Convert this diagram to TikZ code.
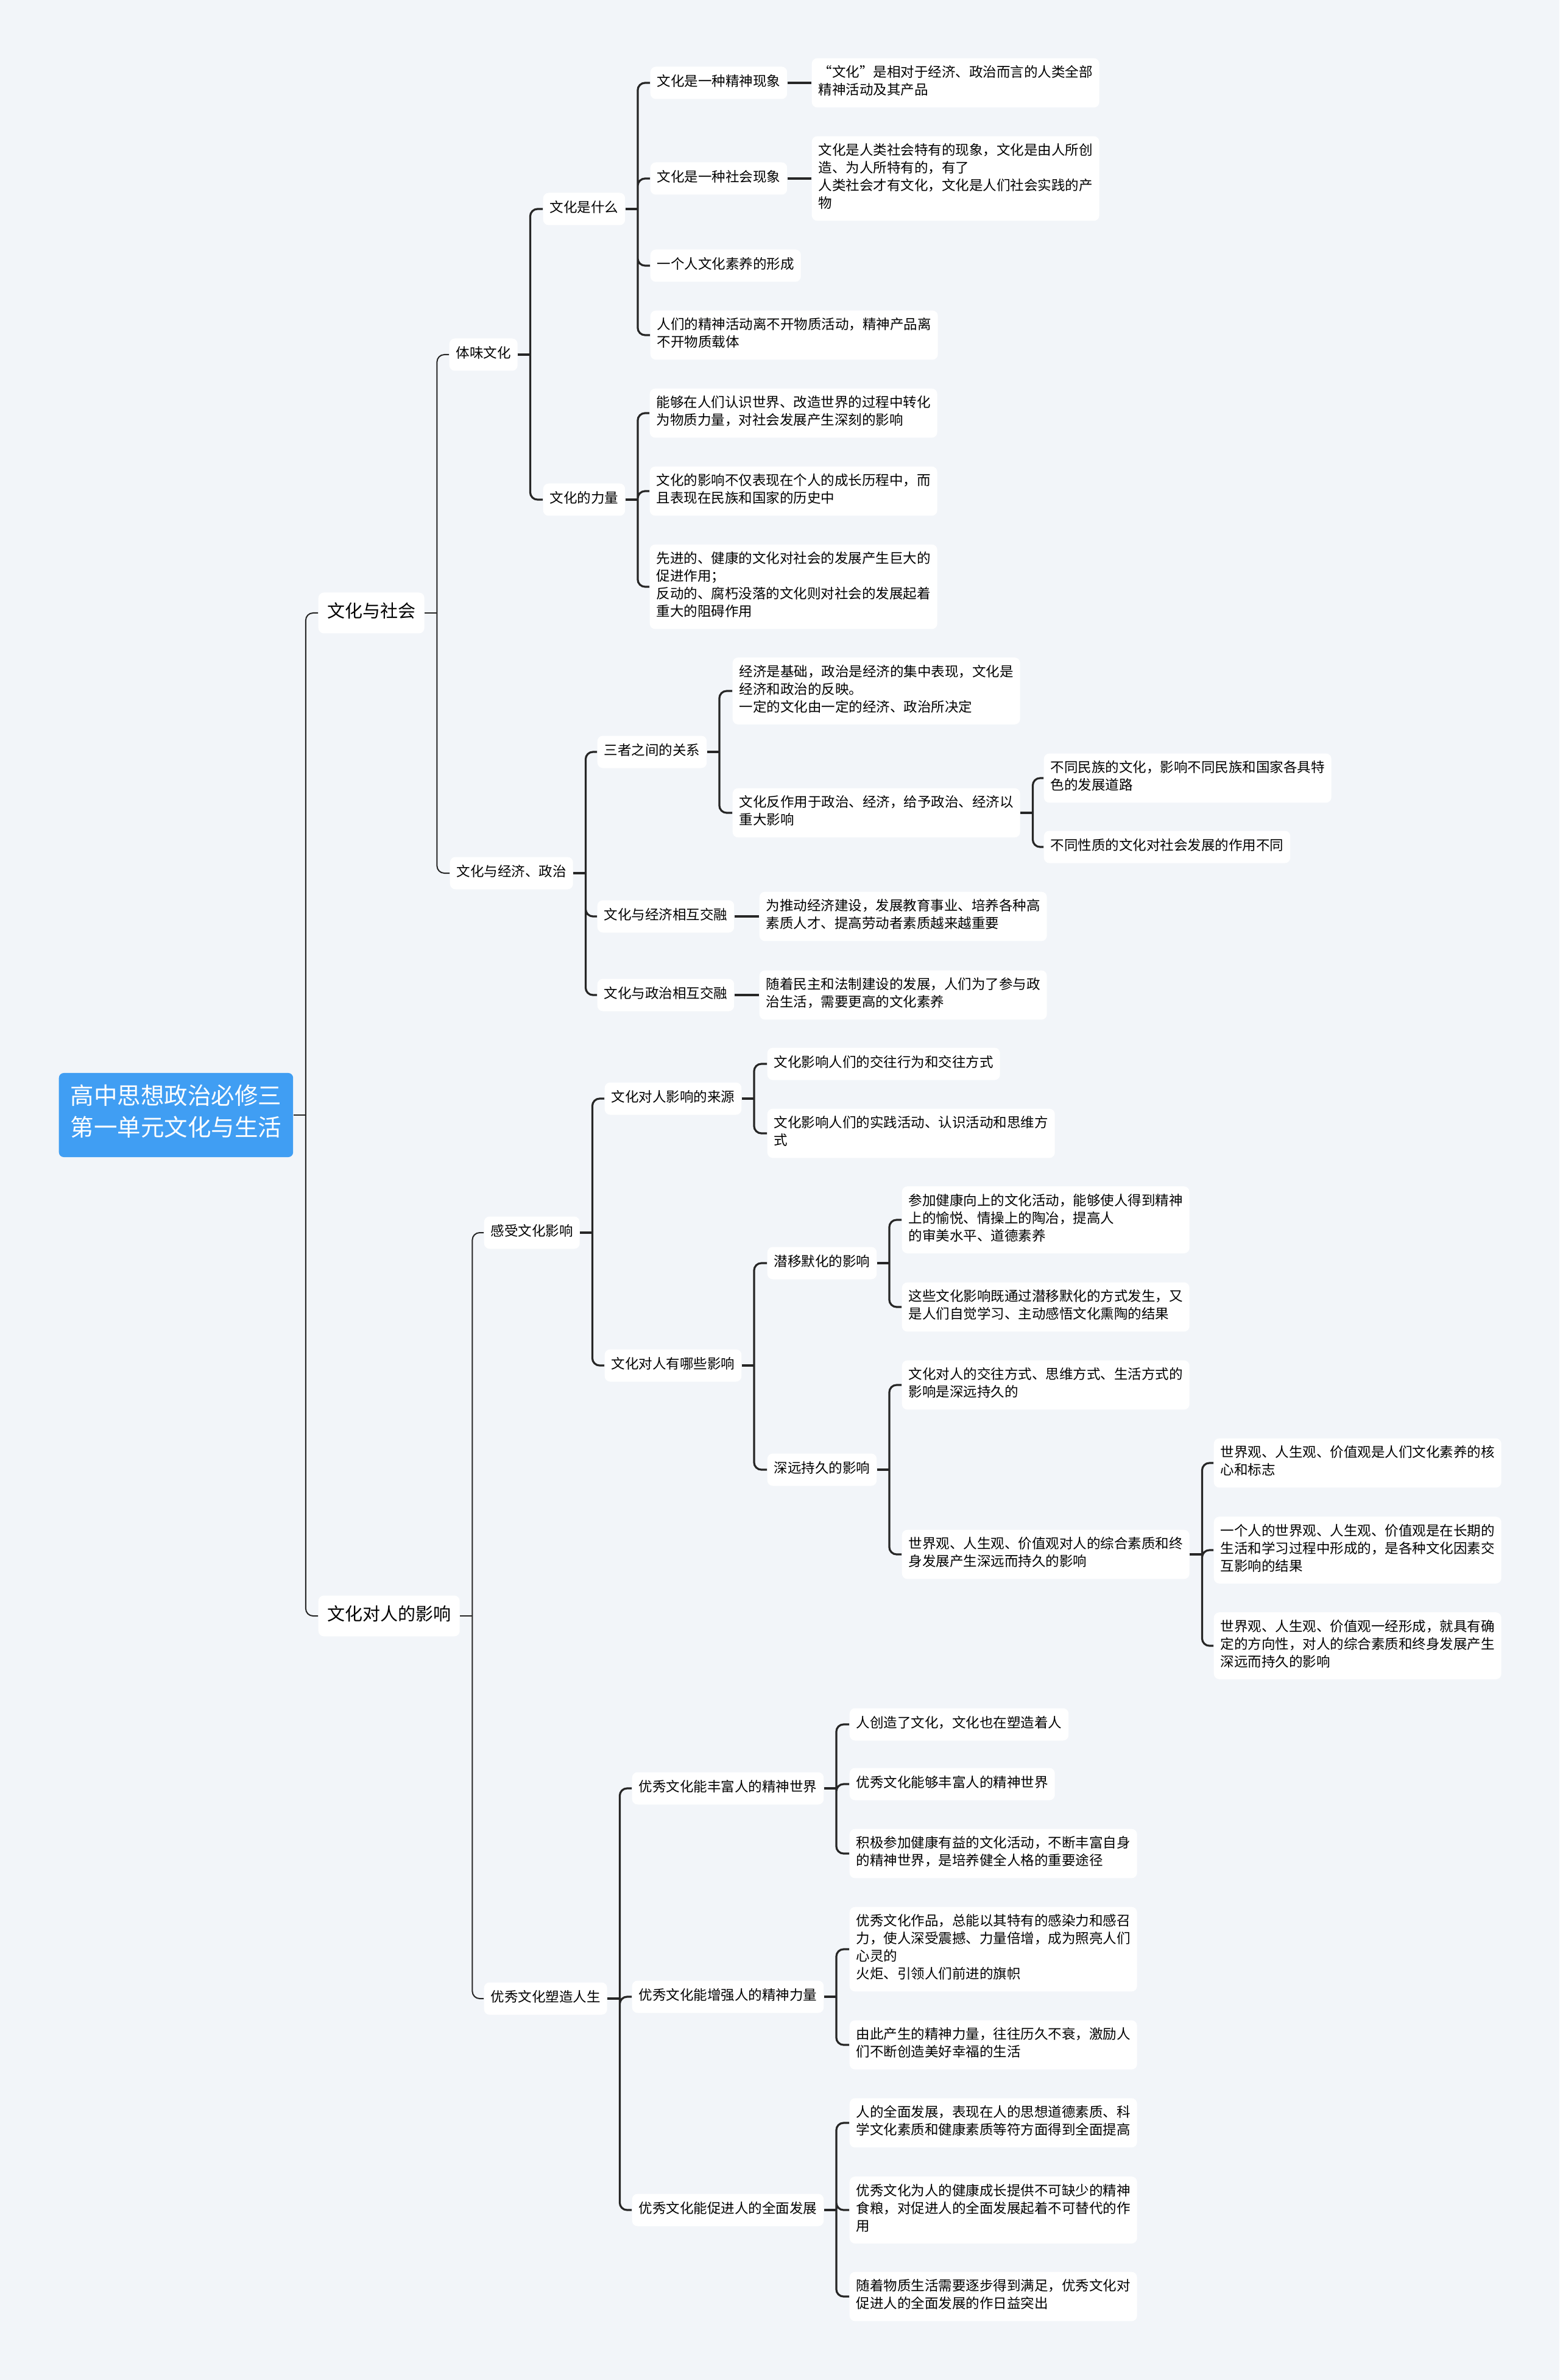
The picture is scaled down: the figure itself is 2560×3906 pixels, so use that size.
\documentclass[tikz,border=0pt]{standalone}
\usepackage{fontspec}
\setmainfont{Noto Sans CJK SC}
\newcommand\fwq[1]{{\addfontfeatures{CharacterWidth=Full}#1}}
\newcommand\lstrut{\rule[-0.3\baselineskip]{0pt}{\baselineskip}}
\definecolor{bgcol}{HTML}{F2F5F9}
\definecolor{rootcol}{HTML}{409EF3}
\definecolor{linecol}{HTML}{262626}

\begin{document}
\begin{tikzpicture}[x=0.1mm, y=-0.1mm,
  topic/.style={fill=white, rounded corners=0.9mm, anchor=west, align=left,
    inner xsep=1.1mm, inner ysep=1.2mm, font=\fontsize{2.25mm}{2.9mm}\selectfont,
    execute at begin node=\lstrut, execute at end node=\lstrut},
  branch/.style={topic, inner xsep=1.45mm, inner ysep=1.45mm,
    font=\fontsize{2.9mm}{3.8mm}\selectfont},
  rootbox/.style={topic, fill=rootcol, text=white, align=center, rounded corners=0.8mm,
    inner xsep=1.9mm, inner ysep=1.9mm, font=\fontsize{3.85mm}{5.2mm}\selectfont},
  link/.style={draw=linecol, line width=0.32mm},
  elbow/.style={link, rounded corners=1.2mm},
  thin/.style={line width=0.2mm}]

% background
\fill[bgcol] (0,0) rectangle (2560,3906);
\useasboundingbox (0,0) rectangle (2560,3906);

% root
\node[rootbox] (root) at (96,1830) {高中思想政治必修三\\第一单元文化与生活};

% first level
\node[branch] (soc) at (522,1006) {文化与社会};
\node[branch] (man) at (522,2652) {文化对人的影响};

% culture and society
\node[topic] (taste) at (737,582) {体味文化};
\node[topic] (eco) at (738,1433) {文化与经济、政治};

\node[topic] (what) at (891,343) {文化是什么};
\node[topic] (power) at (891,820) {文化的力量};

\node[topic] (what1) at (1067,136) {文化是一种精神现象};
\node[topic] (what1t) at (1332,136) {\fwq{“}文化\fwq{”}是相对于经济、政治而言的人类全部\\精神活动及其产品};
\node[topic] (what2) at (1067,293) {文化是一种社会现象};
\node[topic] (what2t) at (1332,293) {文化是人类社会特有的现象，文化是由人所创\\造、为人所特有的，有了\\人类社会才有文化，文化是人们社会实践的产\\物};
\node[topic] (what3) at (1067,436) {一个人文化素养的形成};
\node[topic] (what4) at (1067,550) {人们的精神活动离不开物质活动，精神产品离\\不开物质载体};

\node[topic] (power1) at (1066,678) {能够在人们认识世界、改造世界的过程中转化\\为物质力量，对社会发展产生深刻的影响};
\node[topic] (power2) at (1066,806) {文化的影响不仅表现在个人的成长历程中，而\\且表现在民族和国家的历史中};
\node[topic] (power3) at (1066,963) {先进的、健康的文化对社会的发展产生巨大的\\促进作用；\\反动的、腐朽没落的文化则对社会的发展起着\\重大的阻碍作用};

\node[topic] (three) at (980,1234) {三者之间的关系};
\node[topic] (three1) at (1202,1134) {经济是基础，政治是经济的集中表现，文化是\\经济和政治的反映。\\一定的文化由一定的经济、政治所决定};
\node[topic] (three2) at (1202,1334) {文化反作用于政治、经济，给予政治、经济以\\重大影响};
\node[topic] (three2a) at (1713,1277) {不同民族的文化，影响不同民族和国家各具特\\色的发展道路};
\node[topic] (three2b) at (1713,1390) {不同性质的文化对社会发展的作用不同};

\node[topic] (ecomix) at (980,1504) {文化与经济相互交融};
\node[topic] (ecomixt) at (1246,1504) {为推动经济建设，发展教育事业、培养各种高\\素质人才、提高劳动者素质越来越重要};
\node[topic] (polmix) at (980,1633) {文化与政治相互交融};
\node[topic] (polmixt) at (1246,1633) {随着民主和法制建设的发展，人们为了参与政\\治生活，需要更高的文化素养};

% culture and man
\node[topic] (feel) at (794,2023) {感受文化影响};
\node[topic] (shape) at (794,3280) {优秀文化塑造人生};

\node[topic] (source) at (992,1803) {文化对人影响的来源};
\node[topic] (source1) at (1259,1746) {文化影响人们的交往行为和交往方式};
\node[topic] (source2) at (1259,1860) {文化影响人们的实践活动、认识活动和思维方\\式};

\node[topic] (effect) at (992,2241) {文化对人有哪些影响};
\node[topic] (subtle) at (1259,2073) {潜移默化的影响};
\node[topic] (subtle1) at (1480,2002) {参加健康向上的文化活动，能够使人得到精神\\上的愉悦、情操上的陶冶，提高人\\的审美水平、道德素养};
\node[topic] (subtle2) at (1480,2145) {这些文化影响既通过潜移默化的方式发生，又\\是人们自觉学习、主动感悟文化熏陶的结果};
\node[topic] (lasting) at (1259,2412) {深远持久的影响};
\node[topic] (lasting1) at (1480,2273) {文化对人的交往方式、思维方式、生活方式的\\影响是深远持久的};
\node[topic] (lasting2) at (1480,2551) {世界观、人生观、价值观对人的综合素质和终\\身发展产生深远而持久的影响};
\node[topic] (view1) at (1992,2401) {世界观、人生观、价值观是人们文化素养的核\\心和标志};
\node[topic] (view2) at (1992,2544) {一个人的世界观、人生观、价值观是在长期的\\生活和学习过程中形成的，是各种文化因素交\\互影响的结果};
\node[topic] (view3) at (1992,2701) {世界观、人生观、价值观一经形成，就具有确\\定的方向性，对人的综合素质和终身发展产生\\深远而持久的影响};

\node[topic] (rich) at (1037,2935) {优秀文化能丰富人的精神世界};
\node[topic] (rich1) at (1394,2830) {人创造了文化，文化也在塑造着人};
\node[topic] (rich2) at (1394,2928) {优秀文化能够丰富人的精神世界};
\node[topic] (rich3) at (1394,3042) {积极参加健康有益的文化活动，不断丰富自身\\的精神世界，是培养健全人格的重要途径};

\node[topic] (force) at (1037,3277) {优秀文化能增强人的精神力量};
\node[topic] (force1) at (1394,3199) {优秀文化作品，总能以其特有的感染力和感召\\力，使人深受震撼、力量倍增，成为照亮人们\\心灵的\\火炬、引领人们前进的旗帜};
\node[topic] (force2) at (1394,3356) {由此产生的精神力量，往往历久不衰，激励人\\们不断创造美好幸福的生活};

\node[topic] (whole) at (1037,3627) {优秀文化能促进人的全面发展};
\node[topic] (whole1) at (1394,3484) {人的全面发展，表现在人的思想道德素质、科\\学文化素质和健康素质等符方面得到全面提高};
\node[topic] (whole2) at (1394,3627) {优秀文化为人的健康成长提供不可缺少的精神\\食粮，对促进人的全面发展起着不可替代的作\\用};
\node[topic] (whole3) at (1394,3769) {随着物质生活需要逐步得到满足，优秀文化对\\促进人的全面发展的作日益突出};

% connections
\draw[link, thin] (root.east) -- ++(2mm,0) coordinate (root-j);
\draw[elbow, thin] (root-j) |- (soc.west) (root-j) |- (man.west);

\draw[link, thin] (soc.east) -- ++(2mm,0) coordinate (soc-j);
\draw[elbow, thin] (soc-j) |- (taste.west) (soc-j) |- (eco.west);
\draw[link] (taste.east) -- ++(2mm,0) coordinate (taste-j);
\draw[elbow] (taste-j) |- (what.west) (taste-j) |- (power.west);
\draw[link] (what.east) -- ++(2mm,0) coordinate (what-j);
\draw[elbow] (what-j) |- (what1.west) (what-j) |- (what2.west) (what-j) |- (what3.west) (what-j) |- (what4.west);
\draw[link] (what1.east) -- (what1t.west);
\draw[link] (what2.east) -- (what2t.west);
\draw[link] (power.east) -- ++(2mm,0) coordinate (power-j);
\draw[elbow] (power-j) |- (power1.west) (power-j) |- (power2.west) (power-j) |- (power3.west);

\draw[link] (eco.east) -- ++(2mm,0) coordinate (eco-j);
\draw[elbow] (eco-j) |- (three.west) (eco-j) |- (ecomix.west) (eco-j) |- (polmix.west);
\draw[link] (three.east) -- ++(2mm,0) coordinate (three-j);
\draw[elbow] (three-j) |- (three1.west) (three-j) |- (three2.west);
\draw[link] (three2.east) -- ++(2mm,0) coordinate (three2-j);
\draw[elbow] (three2-j) |- (three2a.west) (three2-j) |- (three2b.west);
\draw[link] (ecomix.east) -- (ecomixt.west);
\draw[link] (polmix.east) -- (polmixt.west);

\draw[link, thin] (man.east) -- ++(2mm,0) coordinate (man-j);
\draw[elbow, thin] (man-j) |- (feel.west) (man-j) |- (shape.west);
\draw[link] (feel.east) -- ++(2mm,0) coordinate (feel-j);
\draw[elbow] (feel-j) |- (source.west) (feel-j) |- (effect.west);
\draw[link] (source.east) -- ++(2mm,0) coordinate (source-j);
\draw[elbow] (source-j) |- (source1.west) (source-j) |- (source2.west);
\draw[link] (effect.east) -- ++(2mm,0) coordinate (effect-j);
\draw[elbow] (effect-j) |- (subtle.west) (effect-j) |- (lasting.west);
\draw[link] (subtle.east) -- ++(2mm,0) coordinate (subtle-j);
\draw[elbow] (subtle-j) |- (subtle1.west) (subtle-j) |- (subtle2.west);
\draw[link] (lasting.east) -- ++(2mm,0) coordinate (lasting-j);
\draw[elbow] (lasting-j) |- (lasting1.west) (lasting-j) |- (lasting2.west);
\draw[link] (lasting2.east) -- ++(2mm,0) coordinate (lasting2-j);
\draw[elbow] (lasting2-j) |- (view1.west) (lasting2-j) |- (view2.west) (lasting2-j) |- (view3.west);

\draw[link] (shape.east) -- ++(2mm,0) coordinate (shape-j);
\draw[elbow] (shape-j) |- (rich.west) (shape-j) |- (force.west) (shape-j) |- (whole.west);
\draw[link] (rich.east) -- ++(2mm,0) coordinate (rich-j);
\draw[elbow] (rich-j) |- (rich1.west) (rich-j) |- (rich2.west) (rich-j) |- (rich3.west);
\draw[link] (force.east) -- ++(2mm,0) coordinate (force-j);
\draw[elbow] (force-j) |- (force1.west) (force-j) |- (force2.west);
\draw[link] (whole.east) -- ++(2mm,0) coordinate (whole-j);
\draw[elbow] (whole-j) |- (whole1.west) (whole-j) |- (whole2.west) (whole-j) |- (whole3.west);

\end{tikzpicture}
\end{document}
